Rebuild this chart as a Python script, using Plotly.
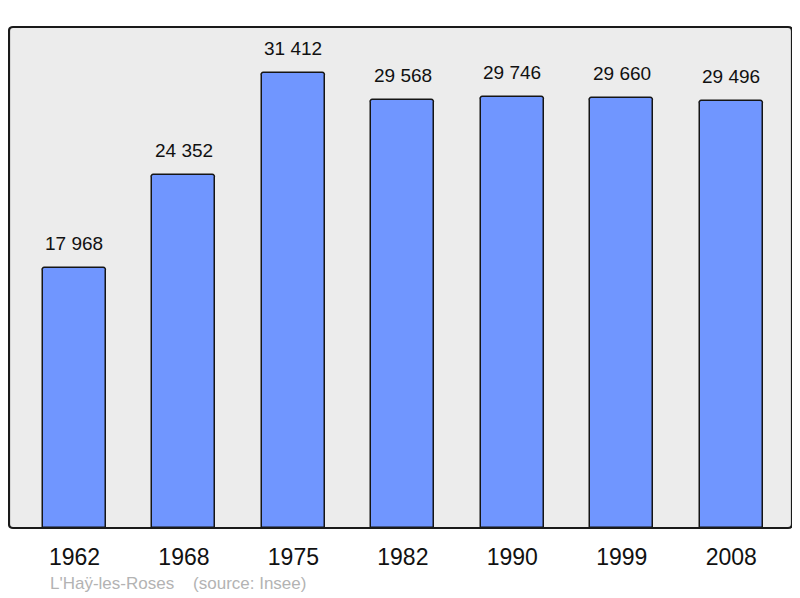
import plotly.graph_objects as go

years = ["1962", "1968", "1975", "1982", "1990", "1999", "2008"]
population = [17968, 24352, 31412, 29568, 29746, 29660, 29496]
labels = [f"{v:,}".replace(",", " ") for v in population]
source_text = "L'Haÿ-les-Roses    (source: Insee)"

# page has an 8px body margin; figure starts at (8,8)
W, H = 792, 590
L, R, T, B = 1, 8, 19, 70
pw, ph = W - L - R, H - T - B
FONT = "Liberation Sans, Arial"

xs = list(range(len(years)))
fig = go.Figure()
fig.add_trace(go.Bar(
    x=xs, y=population,
    marker=dict(color="#7096ff", line=dict(color="#151515", width=1.5), cornerradius=3),
    width=0.575,
))
for xi, v, lab in zip(xs, population, labels):
    fig.add_annotation(x=xi, y=v, text=lab, showarrow=False, yanchor="bottom",
                       yshift=12, font=dict(family=FONT, size=19, color="#111"))

rx, ry = 4 / pw, 4 / ph
path = (f"M {rx},0 L {1-rx},0 Q 1,0 1,{ry} L 1,{1-ry} Q 1,1 {1-rx},1 "
        f"L {rx},1 Q 0,1 0,{1-ry} L 0,{ry} Q 0,0 {rx},0 Z")
fig.add_shape(type="path", path=path, xref="paper", yref="paper",
              fillcolor="#ececec", line=dict(width=0), layer="below")
fig.add_shape(type="path", path=path, xref="paper", yref="paper",
              fillcolor="rgba(0,0,0,0)", line=dict(color="#1a1a1a", width=2.2), layer="above")

fig.add_annotation(text=source_text, xref="paper", yref="paper",
                   x=(40 - L) / pw, y=-(575 - (T + ph)) / ph, xanchor="left", yanchor="middle",
                   showarrow=False, font=dict(family=FONT, size=17, color="#b3b3b3"))

fig.update_layout(
    width=W, height=H, margin=dict(l=L, r=R, t=T, b=B),
    paper_bgcolor="white", plot_bgcolor="rgba(0,0,0,0)",
    showlegend=False, bargap=0,
    xaxis=dict(tickvals=xs, ticktext=years, range=[-0.598, 6.555],
               showgrid=False, zeroline=False, showline=False, ticks="",
               tickfont=dict(family=FONT, size=23, color="#111"),
               ticklabelstandoff=13),
    yaxis=dict(range=[0, 34590], showgrid=False, zeroline=False, showline=False,
               showticklabels=False, ticks=""),
)
fig.write_html("out.html")
